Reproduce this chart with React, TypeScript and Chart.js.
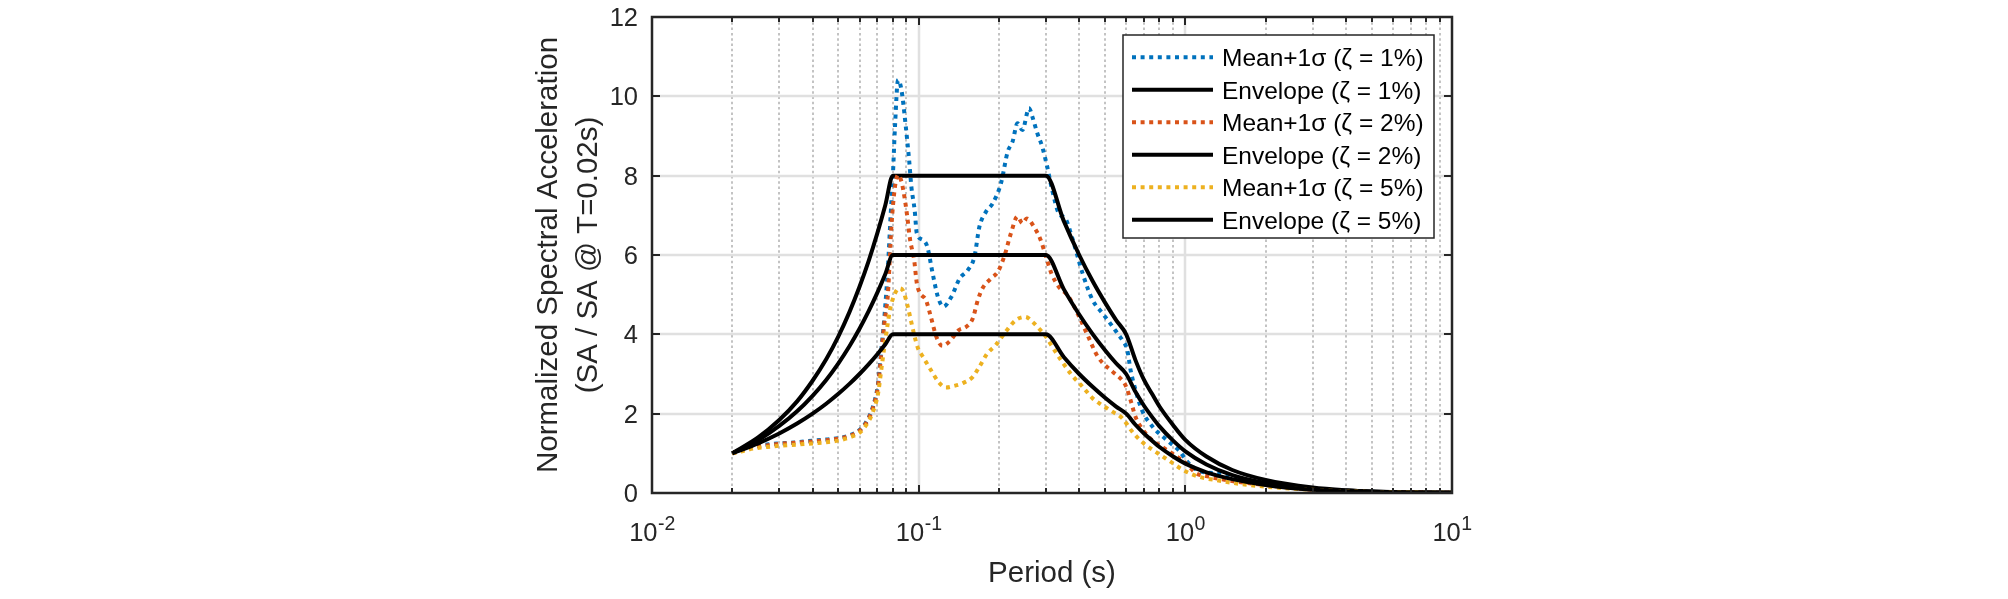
import React, { useEffect, useRef } from "react";
import { Chart, registerables } from "chart.js";

Chart.register(...registerables);

const W = 2008;
const H = 599;
const FONT = '"Liberation Sans", Arial, Helvetica, sans-serif';
const INK = "#262626";

// ---------- axis ticks ----------
const xMajorTicks = [0.01, 0.1, 1, 10];
const xMajorExponents = ["-2", "-1", "0", "1"];
const xMinorMultipliers = [2, 3, 4, 5, 6, 7, 8, 9];
const yTicks = [0, 2, 4, 6, 8, 10, 12];
const yTickLabels = ["0", "2", "4", "6", "8", "10", "12"];

const xTitle = "Period (s)";
const yTitleLines = ["Normalized Spectral Acceleration", "(SA / SA @ T=0.02s)"];

const seriesLabels = [
  "Mean+1σ (ζ = 1%)",
  "Envelope (ζ = 1%)",
  "Mean+1σ (ζ = 2%)",
  "Envelope (ζ = 2%)",
  "Mean+1σ (ζ = 5%)",
  "Envelope (ζ = 5%)",
];

// ---------- envelopes ----------
const envPeriods = [
  0.02, 0.025, 0.03, 0.035, 0.04, 0.045, 0.05, 0.055, 0.06, 0.065, 0.07, 0.075, 0.08,
  0.3, 0.35, 0.4, 0.45, 0.5, 0.55, 0.6, 0.65, 0.7, 0.75, 0.8, 0.9, 1.0, 1.2, 1.5, 2, 3, 4, 5, 7, 10,
];
const env1 = [
  1.0, 1.4, 1.84, 2.31, 2.83, 3.37, 3.95, 4.56, 5.2, 5.86, 6.55, 7.26, 8.0,
  8.0, 6.86, 6.0, 5.33, 4.8, 4.36, 4.0, 3.35, 2.85, 2.5, 2.18, 1.71, 1.34, 0.92, 0.58, 0.33, 0.14, 0.07, 0.04, 0.02, 0.01,
];
const env2 = [
  1.0, 1.33, 1.69, 2.06, 2.45, 2.85, 3.27, 3.7, 4.14, 4.59, 5.05, 5.52, 6.0,
  6.0, 5.14, 4.5, 4.0, 3.6, 3.27, 3.0, 2.55, 2.2, 1.92, 1.68, 1.32, 1.05, 0.72, 0.45, 0.25, 0.11, 0.06, 0.035, 0.015, 0.008,
];
const env5 = [
  1.0, 1.25, 1.5, 1.75, 2.0, 2.25, 2.5, 2.75, 3.0, 3.25, 3.5, 3.75, 4.0,
  4.0, 3.43, 3.0, 2.67, 2.4, 2.18, 2.0, 1.72, 1.5, 1.32, 1.16, 0.92, 0.74, 0.52, 0.35, 0.2, 0.08, 0.045, 0.025, 0.012, 0.005,
];

// ---------- mean + 1 sigma, zeta = 1% ----------
const mean1Periods = [
  0.02, 0.022, 0.024, 0.027, 0.03, 0.035, 0.04, 0.045, 0.05, 0.055, 0.06, 0.0637, 0.0674, 0.0704, 0.0724,
  0.0744, 0.0767, 0.0785, 0.08, 0.0815, 0.0837, 0.0862, 0.0895, 0.0921, 0.0939, 0.0966, 0.0984, 0.1036,
  0.1077, 0.1128, 0.118, 0.1237, 0.1328, 0.1425, 0.1529, 0.1619, 0.1688, 0.1788, 0.1895, 0.2036, 0.2156,
  0.225, 0.2347, 0.2449, 0.2593, 0.2668, 0.2785, 0.2906, 0.3033, 0.3167, 0.3353, 0.3548, 0.3754, 0.4116,
  0.4486, 0.489, 0.533, 0.56, 0.581, 0.6058, 0.6232, 0.6503, 0.6872, 0.754, 0.85, 0.95, 1.02, 1.12, 1.29,
  1.5, 1.7, 2, 2.5, 3, 4, 5, 7, 10,
];
const mean1 = [
  1.0, 1.1, 1.17, 1.22, 1.25, 1.28, 1.32, 1.35, 1.38, 1.45, 1.59, 1.8, 2.18, 2.76, 3.6,
  4.44, 5.7, 7.0, 7.97, 9.23, 10.41, 10.16, 9.23, 8.39, 7.72, 7.13, 6.55, 6.38,
  6.21, 5.54, 4.95, 4.7, 4.95, 5.41, 5.62, 5.96, 6.7, 7.09, 7.3, 7.81, 8.6,
  8.86, 9.32, 9.15, 9.7, 9.49, 9.07, 8.73, 8.23, 7.64, 7.05, 6.92, 6.46, 5.54,
  4.87, 4.53, 4.2, 4.0, 3.85, 3.6, 3.1, 2.6, 2.09, 1.67, 1.34, 1.06, 0.78, 0.56, 0.5,
  0.41, 0.32, 0.24, 0.15, 0.1, 0.05, 0.03, 0.015, 0.008,
];

// ---------- mean + 1 sigma, zeta = 2% ----------
const mean2Periods = [
  0.02, 0.022, 0.024, 0.027, 0.03, 0.035, 0.04, 0.045, 0.05, 0.055, 0.06, 0.0637, 0.0674, 0.0704, 0.0724,
  0.0744, 0.0767, 0.079, 0.0815, 0.0837, 0.0862, 0.0888, 0.0906, 0.0929, 0.0962, 0.0984, 0.1013, 0.1064,
  0.1111, 0.1165, 0.1227, 0.13, 0.1416, 0.1508, 0.1595, 0.1668, 0.1736, 0.1869, 0.1982, 0.2093, 0.2219,
  0.2347, 0.2449, 0.2543, 0.2707, 0.2867, 0.3003, 0.3144, 0.3353, 0.3651, 0.4, 0.4324, 0.4692, 0.533,
  0.571, 0.6, 0.6232, 0.6503, 0.6872, 0.7483, 0.8154, 0.8917, 1.006, 1.097, 1.23, 1.5, 2, 3, 4, 5, 7, 10,
];
const mean2 = [
  1.0, 1.08, 1.15, 1.2, 1.24, 1.27, 1.3, 1.33, 1.37, 1.44, 1.57, 1.78, 2.15, 2.7, 3.5,
  4.3, 5.03, 6.71, 7.72, 8.02, 7.85, 7.39, 6.97, 6.38, 5.87, 5.29, 5.03, 4.87,
  4.44, 3.94, 3.71, 3.81, 4.11, 4.19, 4.4, 4.87, 5.16, 5.41, 5.58, 5.96, 6.55,
  6.97, 6.8, 6.92, 6.71, 6.38, 5.96, 5.54, 5.2, 4.95, 4.44, 3.94, 3.44, 3.06,
  2.89, 2.68, 2.34, 1.92, 1.63, 1.34, 1.17, 1.0, 0.75, 0.5, 0.41, 0.3, 0.2, 0.08, 0.045, 0.025, 0.012, 0.006,
];

// ---------- mean + 1 sigma, zeta = 5% ----------
const mean5Periods = [
  0.02, 0.022, 0.024, 0.027, 0.03, 0.035, 0.04, 0.045, 0.05, 0.055, 0.06, 0.0637, 0.0674, 0.0704, 0.0724,
  0.0744, 0.0767, 0.078, 0.0815, 0.0845, 0.0874, 0.0906, 0.0939, 0.0966, 0.0994, 0.1036, 0.1111, 0.1197,
  0.1266, 0.1358, 0.1464, 0.1596, 0.1688, 0.181, 0.1946, 0.2122, 0.2315, 0.2513, 0.2668, 0.2823, 0.3003,
  0.3167, 0.345, 0.3754, 0.4116, 0.4486, 0.476, 0.533, 0.581, 0.6315, 0.6872, 0.789, 0.88, 0.981, 1.124,
  1.29, 1.56, 2, 3, 4, 5, 7, 10,
];
const mean5 = [
  1.0, 1.06, 1.12, 1.16, 1.19, 1.22, 1.25, 1.28, 1.32, 1.4, 1.52, 1.72, 2.05, 2.5, 3.1,
  3.7, 4.3, 4.61, 5.03, 5.16, 5.1, 4.75, 4.3, 3.94, 3.65, 3.44, 3.1, 2.77,
  2.66, 2.7, 2.77, 2.93, 3.18, 3.52, 3.73, 4.07, 4.36, 4.44, 4.32, 4.15, 3.94,
  3.69, 3.31, 2.97, 2.68, 2.39, 2.26, 2.05, 1.88, 1.55, 1.29, 1.0, 0.79, 0.58, 0.41,
  0.33, 0.24, 0.16, 0.08, 0.045, 0.025, 0.012, 0.005,
];

const BLUE = "#0072BD";
const RED = "#D95319";
const YELLOW = "#EDB120";
const BLACK = "#000000";
const DOT = [4, 4.6];

function pts(t: number[], v: number[]) {
  return t.map((x, i) => ({ x, y: v[i] }));
}

export default function App() {
  const ref = useRef<HTMLCanvasElement | null>(null);

  useEffect(() => {
    const canvas = ref.current;
    if (!canvas) return;

    const axesPlugin = {
      id: "matlabAxes",
      beforeDatasetsDraw(chart: any) {
        const { ctx, chartArea: a, scales } = chart;
        const xs = scales.x;
        const ys = scales.y;
        ctx.save();
        // minor x grid (dotted)
        ctx.strokeStyle = "#c3c3c3";
        ctx.lineWidth = 2;
        ctx.setLineDash([2.5, 2.8]);
        for (let d = 0; d < xMajorTicks.length - 1; d++) {
          for (const m of xMinorMultipliers) {
            const px = Math.round(xs.getPixelForValue(xMajorTicks[d] * m));
            ctx.beginPath();
            ctx.moveTo(px, a.top);
            ctx.lineTo(px, a.bottom);
            ctx.stroke();
          }
        }
        ctx.setLineDash([]);
        // major grid
        ctx.strokeStyle = "#e0e0e0";
        ctx.lineWidth = 2.5;
        for (const t of xMajorTicks) {
          const px = Math.round(xs.getPixelForValue(t));
          if (px <= a.left + 2 || px >= a.right - 2) continue;
          ctx.beginPath();
          ctx.moveTo(px, a.top);
          ctx.lineTo(px, a.bottom);
          ctx.stroke();
        }
        for (const v of yTicks) {
          const py = Math.round(ys.getPixelForValue(v));
          if (py <= a.top + 2 || py >= a.bottom - 2) continue;
          ctx.beginPath();
          ctx.moveTo(a.left, py);
          ctx.lineTo(a.right, py);
          ctx.stroke();
        }
        ctx.restore();
      },
      afterDatasetsDraw(chart: any) {
        const { ctx, chartArea: a, scales } = chart;
        const xs = scales.x;
        const ys = scales.y;
        ctx.save();
        ctx.strokeStyle = INK;
        ctx.fillStyle = INK;
        ctx.lineWidth = 2.5;
        ctx.setLineDash([]);
        // box
        ctx.strokeRect(a.left, a.top, a.right - a.left, a.bottom - a.top);
        // ticks
        ctx.lineWidth = 2;
        const tick = (x1: number, y1: number, x2: number, y2: number) => {
          ctx.beginPath();
          ctx.moveTo(x1, y1);
          ctx.lineTo(x2, y2);
          ctx.stroke();
        };
        for (let d = 0; d < xMajorTicks.length; d++) {
          const px = Math.round(xs.getPixelForValue(xMajorTicks[d]));
          tick(px, a.bottom, px, a.bottom - 8);
          tick(px, a.top, px, a.top + 8);
          if (d < xMajorTicks.length - 1) {
            for (const m of xMinorMultipliers) {
              const qx = Math.round(xs.getPixelForValue(xMajorTicks[d] * m));
              tick(qx, a.bottom, qx, a.bottom - 5);
              tick(qx, a.top, qx, a.top + 5);
            }
          }
        }
        for (const v of yTicks) {
          const py = Math.round(ys.getPixelForValue(v));
          tick(a.left, py, a.left + 8, py);
          tick(a.right, py, a.right - 8, py);
        }
        // y tick labels
        ctx.font = `25.5px ${FONT}`;
        ctx.textAlign = "right";
        ctx.textBaseline = "alphabetic";
        yTicks.forEach((v, i) => {
          const py = ys.getPixelForValue(v);
          ctx.fillText(yTickLabels[i], a.left - 14, py + 9);
        });
        // x tick labels with superscripts
        xMajorTicks.forEach((t, i) => {
          const px = xs.getPixelForValue(t);
          ctx.font = `25.5px ${FONT}`;
          const wb = ctx.measureText("10").width;
          ctx.font = `19.5px ${FONT}`;
          const we = ctx.measureText(xMajorExponents[i]).width;
          const x0 = px - (wb + we) / 2;
          ctx.textAlign = "left";
          ctx.font = `25.5px ${FONT}`;
          ctx.fillText("10", x0, 541);
          ctx.font = `19.5px ${FONT}`;
          ctx.fillText(xMajorExponents[i], x0 + wb + 0.5, 530);
        });
        // axis titles
        ctx.font = `29.5px ${FONT}`;
        ctx.textAlign = "center";
        ctx.fillText(xTitle, (a.left + a.right) / 2, 582);
        const yc = (a.top + a.bottom) / 2;
        const baseX = [556.5, 597];
        yTitleLines.forEach((s, i) => {
          ctx.save();
          ctx.translate(baseX[i], yc);
          ctx.rotate(-Math.PI / 2);
          ctx.fillText(s, 0, 0);
          ctx.restore();
        });
        // legend
        const lx = 1123, ly = 35, lw = 311, lh = 203;
        ctx.fillStyle = "#ffffff";
        ctx.fillRect(lx, ly, lw, lh);
        ctx.strokeStyle = INK;
        ctx.lineWidth = 1.5;
        ctx.strokeRect(lx, ly, lw, lh);
        ctx.font = `24.5px ${FONT}`;
        ctx.textAlign = "left";
        chart.data.datasets.forEach((ds: any, i: number) => {
          const cy = 57.3 + i * 32.5;
          ctx.strokeStyle = ds.borderColor;
          ctx.lineWidth = ds.borderWidth;
          ctx.lineCap = "butt";
          ctx.setLineDash(ds.borderDash || []);
          ctx.beginPath();
          ctx.moveTo(1132, cy);
          ctx.lineTo(1213, cy);
          ctx.stroke();
          ctx.setLineDash([]);
          ctx.fillStyle = "#000000";
          ctx.fillText(ds.label, 1222, cy + 8.8);
        });
        ctx.restore();
      },
    };

    const mk = (label: string, data: any[], color: string, dashed: boolean, order: number) => ({
      label,
      data,
      borderColor: color,
      backgroundColor: color,
      borderWidth: 4,
      borderDash: dashed ? DOT : [],
      pointRadius: 0,
      pointHoverRadius: 0,
      fill: false,
      cubicInterpolationMode: "monotone" as const,
      order,
    });

    const chart = new Chart(canvas, {
      type: "line",
      data: {
        datasets: [
          mk(seriesLabels[0], pts(mean1Periods, mean1), BLUE, true, 6),
          mk(seriesLabels[1], pts(envPeriods, env1), BLACK, false, 5),
          mk(seriesLabels[2], pts(mean2Periods, mean2), RED, true, 4),
          mk(seriesLabels[3], pts(envPeriods, env2), BLACK, false, 3),
          mk(seriesLabels[4], pts(mean5Periods, mean5), YELLOW, true, 2),
          mk(seriesLabels[5], pts(envPeriods, env5), BLACK, false, 1),
        ],
      },
      options: {
        animation: false,
        responsive: false,
        maintainAspectRatio: false,
        layout: { padding: { left: 652, right: W - 1452, top: 17, bottom: H - 493 } },
        plugins: { legend: { display: false }, tooltip: { enabled: false } },
        events: [],
        scales: {
          x: { type: "logarithmic", min: 0.01, max: 10, display: false },
          y: { type: "linear", min: 0, max: 12, display: false },
        },
      },
      plugins: [axesPlugin],
    });

    return () => chart.destroy();
  }, []);

  return (
    <div style={{ position: "fixed", left: 0, top: 0, width: W, height: H, background: "#ffffff" }}>
      <canvas ref={ref} width={W} height={H} style={{ width: W, height: H, display: "block" }} />
    </div>
  );
}
